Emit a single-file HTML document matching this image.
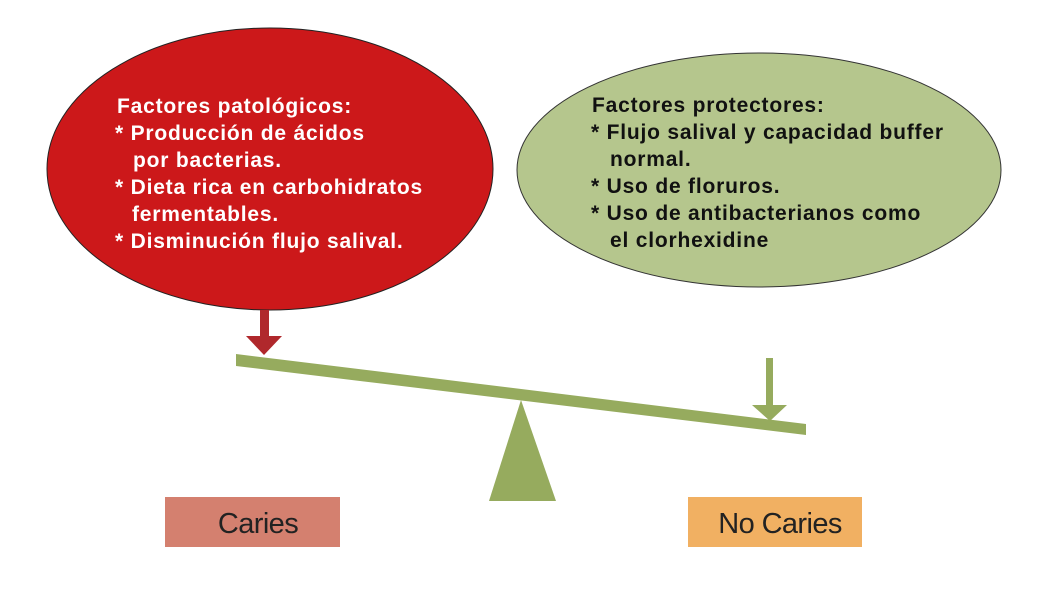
<!DOCTYPE html>
<html><head><meta charset="utf-8"><style>
body{margin:0;background:#fff;width:1043px;height:593px;overflow:hidden}
svg text{font-family:"Liberation Sans",Arial,sans-serif;font-weight:bold;font-size:21px;letter-spacing:0.8px}
</style></head><body>
<svg width="1043" height="593" viewBox="0 0 1043 593" xmlns="http://www.w3.org/2000/svg">
<ellipse cx="270" cy="169" rx="223" ry="141" fill="#cc181a" stroke="#222" stroke-width="1"/>
<ellipse cx="759" cy="170" rx="242" ry="117" fill="#b5c68d" stroke="#333" stroke-width="1"/>
<g fill="#fff">
<text x="117" y="113">Factores patológicos:</text>
<text x="115" y="140">* Producción de ácidos</text>
<text x="133" y="167">por bacterias.</text>
<text x="115" y="194">* Dieta rica en carbohidratos</text>
<text x="132" y="221">fermentables.</text>
<text x="115" y="248">* Disminución flujo salival.</text>
</g>
<g fill="#111">
<text x="592" y="112">Factores protectores:</text>
<text x="591" y="139">* Flujo salival y capacidad buffer</text>
<text x="610" y="166">normal.</text>
<text x="591" y="193">* Uso de floruros.</text>
<text x="591" y="220">* Uso de antibacterianos como</text>
<text x="610" y="247">el clorhexidine</text>
</g>
<rect x="260" y="310" width="9" height="26" fill="#b0282c"/>
<polygon points="246,336 282,336 264,355" fill="#b0282c"/>
<polygon points="236,354 806,424 806,435 236,366" fill="#96ab5e"/>
<polygon points="521,400 489,501 556,501" fill="#96ab5e"/>
<rect x="766" y="358" width="7" height="48" fill="#96ab5e"/>
<polygon points="752,405 787,405 770,421" fill="#96ab5e"/>
<rect x="165" y="497" width="175" height="50" fill="#d4806f"/>
<rect x="688" y="497" width="174" height="50" fill="#f1b062"/>
<text x="258" y="533" text-anchor="middle" style="font-weight:normal;font-size:29px;letter-spacing:-0.6px" fill="#222">Caries</text>
<text x="780" y="533" text-anchor="middle" style="font-weight:normal;font-size:29px;letter-spacing:-0.6px" fill="#222">No Caries</text>
</svg>
</body></html>
